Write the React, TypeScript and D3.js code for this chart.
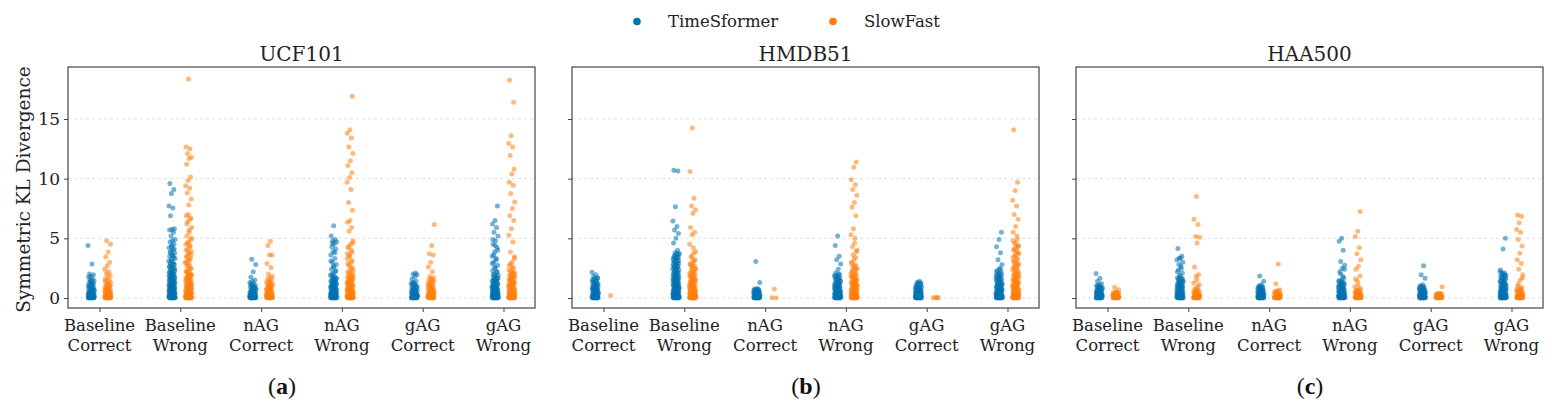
import React, { useEffect, useRef } from 'react';
import * as d3 from 'd3';

// categories and series
const categories = ['Baseline Correct', 'Baseline Wrong', 'nAG Correct', 'nAG Wrong', 'gAG Correct', 'gAG Wrong'];
const models = ['TimeSformer', 'SlowFast'];
const datasets = ['UCF101', 'HMDB51', 'HAA500'];
const panelLetters = ['a', 'b', 'c'];
const yTicks = [0, 5, 10, 15];

// values, one string per category (order as in categories)
// spread-out points
const ucfTimeSformer = [
  '4.4 2.85 2.0 1.95 1.85 1.75 1.6 1.55 1.45 1.35 1.3 1.2 1.1 1.05 0.98 0.9 0.85 0.8 0.74 0.7 0.65 0.6 0.55 0.52 0.48 0.45 0.42 0.38 0.35 0.32 0.29 0.26 0.23 0.2 0.18 0.16 0.14 0.12 0.1 0.08 0.07 0.05 0.04 0.03 0.02 0.01 0 0',
  '9.6 9.1 8.75 7.7 7.55 6.9 5.8 5.75 5.7 5.5 5.2 4.9 4.8 4.7 4.5 4.3 4.2 4.05 3.9 3.75 3.6 3.5 3.4 3.25 3.1 3.0 2.9 2.8 2.7 2.6 2.5 2.4 2.3 2.2 2.1 2.0 1.92 1.85 1.78 1.7 1.62 1.55 1.48 1.4 1.33 1.27 1.2 1.14 1.08 1.02 0.96 0.9 0.85 0.8 0.75 0.7 0.65 0.6 0.56 0.52 0.48 0.44 0.4 0.36 0.33 0.3 0.27 0.24 0.21 0.18 0.16 0.14 0.12 0.1 0.08 0.06 0.05 0.04 0.03 0.02 0.01 0 0',
  '3.25 2.8 2.2 1.75 1.5 1.4 1.3 1.2 1.12 1.05 0.98 0.9 0.84 0.78 0.72 0.66 0.6 0.55 0.5 0.46 0.42 0.38 0.34 0.3 0.27 0.24 0.21 0.18 0.16 0.14 0.12 0.1 0.08 0.06 0.05 0.04 0.03 0.02 0.01 0 0',
  '6.05 5.2 4.9 4.8 4.7 4.5 4.3 4.1 3.9 3.6 3.3 3.0 2.8 2.6 2.4 2.2 2.05 1.9 1.8 1.7 1.6 1.5 1.42 1.34 1.26 1.18 1.1 1.03 0.96 0.9 0.84 0.78 0.72 0.66 0.6 0.55 0.5 0.46 0.42 0.38 0.34 0.3 0.27 0.24 0.21 0.18 0.15 0.13 0.11 0.09 0.07 0.05 0.04 0.03 0.02 0.01 0 0',
  '2.1 2.0 1.95 1.8 1.6 1.4 1.3 1.2 1.12 1.05 0.98 0.9 0.84 0.78 0.72 0.66 0.6 0.55 0.5 0.46 0.42 0.38 0.34 0.3 0.27 0.24 0.21 0.18 0.16 0.14 0.12 0.1 0.08 0.06 0.05 0.04 0.03 0.02 0.01 0 0',
  '7.7 6.5 6.2 5.9 5.5 5.2 4.8 4.5 4.2 3.85 3.5 3.3 3.0 2.75 2.5 2.3 2.15 2.0 1.9 1.8 1.7 1.6 1.5 1.42 1.34 1.26 1.18 1.1 1.03 0.96 0.9 0.84 0.78 0.72 0.66 0.6 0.55 0.5 0.46 0.42 0.38 0.34 0.3 0.27 0.24 0.21 0.18 0.15 0.13 0.11 0.09 0.07 0.05 0.04 0.03 0.02 0.01 0 0',
];
const ucfSlowFast = [
  '4.8 4.5 3.85 3.45 3.0 2.7 2.4 2.2 2.05 1.9 1.75 1.6 1.5 1.4 1.3 1.2 1.1 1.02 0.95 0.88 0.8 0.74 0.68 0.62 0.57 0.52 0.47 0.42 0.38 0.34 0.3 0.27 0.24 0.21 0.18 0.15 0.13 0.11 0.09 0.07 0.05 0.04 0.03 0.02 0.01 0',
  '18.35 12.65 12.5 12.1 11.8 11.7 11.2 10.15 9.85 9.4 9.2 8.8 8.3 7.8 6.9 6.6 6.4 5.9 5.5 5.2 4.9 4.7 4.5 4.3 4.1 3.9 3.7 3.5 3.3 3.1 2.95 2.8 2.65 2.5 2.35 2.2 2.1 2.0 1.9 1.8 1.7 1.6 1.5 1.4 1.32 1.24 1.16 1.08 1.0 0.93 0.86 0.8 0.74 0.68 0.62 0.57 0.52 0.47 0.42 0.38 0.34 0.3 0.26 0.23 0.2 0.17 0.14 0.12 0.1 0.08 0.06 0.04 0.03 0.02 0.01 0 0',
  '4.75 4.4 3.6 3.6 2.9 2.55 2.0 1.8 1.7 1.6 1.5 1.4 1.3 1.2 1.1 1.02 0.95 0.88 0.8 0.74 0.68 0.62 0.56 0.5 0.45 0.4 0.36 0.32 0.28 0.25 0.22 0.19 0.16 0.14 0.12 0.1 0.08 0.06 0.04 0.03 0.02 0.01 0',
  '16.9 14.1 13.8 13.4 12.65 12.1 11.5 11.1 10.5 10.1 9.7 9.1 8.0 7.35 6.5 6.35 5.9 5.6 4.8 4.5 4.2 3.85 3.6 3.3 3.0 2.75 2.5 2.35 2.2 2.05 1.9 1.8 1.7 1.6 1.5 1.4 1.32 1.24 1.16 1.08 1.0 0.93 0.86 0.8 0.74 0.68 0.62 0.57 0.52 0.47 0.42 0.38 0.34 0.3 0.26 0.23 0.2 0.17 0.14 0.12 0.1 0.08 0.06 0.04 0.03 0.02 0.01 0 0',
  '6.15 4.4 3.7 3.6 3.0 2.6 2.2 1.8 1.7 1.6 1.5 1.4 1.3 1.2 1.1 1.02 0.95 0.88 0.8 0.74 0.68 0.62 0.56 0.5 0.45 0.4 0.36 0.32 0.28 0.25 0.22 0.19 0.16 0.14 0.12 0.1 0.08 0.06 0.04 0.03 0.02 0.01 0',
  '18.25 16.4 13.6 12.95 12.65 11.95 10.8 10.4 9.7 9.45 8.75 8.05 7.5 6.9 6.5 5.8 5.25 4.7 3.85 3.45 3.0 2.7 2.45 2.25 2.1 2.0 1.9 1.8 1.7 1.6 1.5 1.4 1.32 1.24 1.16 1.08 1.0 0.93 0.86 0.8 0.74 0.68 0.62 0.57 0.52 0.47 0.42 0.38 0.34 0.3 0.26 0.23 0.2 0.17 0.14 0.12 0.1 0.08 0.06 0.04 0.03 0.02 0.01 0 0',
];
const hmdbTimeSformer = [
  '2.15 1.95 1.8 1.7 1.6 1.5 1.4 1.3 1.2 1.12 1.05 0.98 0.9 0.84 0.78 0.72 0.66 0.6 0.55 0.5 0.46 0.42 0.38 0.34 0.3 0.27 0.24 0.21 0.18 0.16 0.14 0.12 0.1 0.08 0.06 0.05 0.04 0.03 0.02 0.01 0 0',
  '10.7 10.65 7.65 6.45 6.0 5.7 5.4 5.0 4.6 4.0 3.8 3.75 3.6 3.5 3.4 3.3 3.2 3.1 3.0 2.9 2.8 2.7 2.6 2.5 2.4 2.3 2.2 2.1 2.0 1.92 1.85 1.78 1.7 1.62 1.55 1.48 1.4 1.33 1.27 1.2 1.14 1.08 1.02 0.96 0.9 0.85 0.8 0.75 0.7 0.65 0.6 0.56 0.52 0.48 0.44 0.4 0.36 0.33 0.3 0.27 0.24 0.21 0.18 0.16 0.14 0.12 0.1 0.08 0.06 0.05 0.04 0.03 0.02 0.01 0 0',
  '3.05 1.3 0.8 0.75 0.7 0.65 0.6 0.55 0.5 0.46 0.42 0.38 0.34 0.3 0.27 0.24 0.21 0.18 0.16 0.14 0.12 0.1 0.08 0.06 0.05 0.04 0.03 0.02 0.01 0 0',
  '5.2 4.4 3.5 3.2 2.85 2.4 2.1 1.95 1.85 1.75 1.65 1.55 1.45 1.36 1.28 1.2 1.12 1.05 0.98 0.9 0.84 0.78 0.72 0.66 0.6 0.55 0.5 0.46 0.42 0.38 0.34 0.3 0.27 0.24 0.21 0.18 0.15 0.13 0.11 0.09 0.07 0.05 0.04 0.03 0.02 0.01 0 0',
  '1.4 1.3 1.25 1.15 1.05 0.98 0.9 0.84 0.78 0.72 0.66 0.6 0.55 0.5 0.46 0.42 0.38 0.34 0.3 0.27 0.24 0.21 0.18 0.16 0.14 0.12 0.1 0.08 0.06 0.05 0.04 0.03 0.02 0.01 0 0',
  '5.5 4.9 4.3 3.8 3.2 2.8 2.5 2.3 2.15 2.0 1.9 1.8 1.7 1.6 1.5 1.42 1.34 1.26 1.18 1.1 1.03 0.96 0.9 0.84 0.78 0.72 0.66 0.6 0.55 0.5 0.46 0.42 0.38 0.34 0.3 0.27 0.24 0.21 0.18 0.15 0.13 0.11 0.09 0.07 0.05 0.04 0.03 0.02 0.01 0 0',
];
const hmdbSlowFast = [
  '0.2',
  '14.25 10.6 8.35 7.7 7.4 7.1 5.9 5.5 5.3 4.5 3.75 3.5 3.2 3.0 2.85 2.7 2.55 2.4 2.25 2.1 2.0 1.9 1.8 1.7 1.6 1.5 1.4 1.32 1.24 1.16 1.08 1.0 0.93 0.86 0.8 0.74 0.68 0.62 0.57 0.52 0.47 0.42 0.38 0.34 0.3 0.26 0.23 0.2 0.17 0.14 0.12 0.1 0.08 0.06 0.04 0.03 0.02 0.01 0 0',
  '0.75 0.02 0',
  '11.4 10.95 9.9 9.5 9.1 8.6 8.0 7.6 6.9 5.8 5.3 5.0 4.3 3.9 3.2 2.9 2.75 2.6 2.45 2.3 2.15 2.0 1.9 1.8 1.7 1.6 1.5 1.4 1.32 1.24 1.16 1.08 1.0 0.93 0.86 0.8 0.74 0.68 0.62 0.57 0.52 0.47 0.42 0.38 0.34 0.3 0.26 0.23 0.2 0.17 0.14 0.12 0.1 0.08 0.06 0.04 0.03 0.02 0.01 0 0',
  '0.05 0.03 0.02 0',
  '14.1 9.7 9.0 8.2 7.7 7.0 6.6 6.0 5.5 4.9 4.6 4.4 4.2 4.0 3.8 3.6 3.4 3.2 3.0 2.85 2.7 2.55 2.4 2.25 2.1 2.0 1.9 1.8 1.7 1.6 1.5 1.4 1.32 1.24 1.16 1.08 1.0 0.93 0.86 0.8 0.74 0.68 0.62 0.57 0.52 0.47 0.42 0.38 0.34 0.3 0.26 0.23 0.2 0.17 0.14 0.12 0.1 0.08 0.06 0.04 0.03 0.02 0.01 0 0',
];
const haaTimeSformer = [
  '2.05 1.65 1.4 1.2 1.1 1.02 0.95 0.88 0.8 0.74 0.68 0.62 0.56 0.5 0.45 0.4 0.36 0.32 0.28 0.25 0.22 0.19 0.16 0.14 0.12 0.1 0.08 0.06 0.04 0.03 0.02 0.01 0 0',
  '4.15 3.5 3.35 3.2 2.65 2.35 2.1 1.8 1.7 1.6 1.5 1.42 1.34 1.26 1.18 1.1 1.03 0.96 0.9 0.84 0.78 0.72 0.66 0.6 0.55 0.5 0.46 0.42 0.38 0.34 0.3 0.27 0.24 0.21 0.18 0.15 0.13 0.11 0.09 0.07 0.05 0.04 0.03 0.02 0.01 0 0',
  '1.85 1.4 1.1 1.0 0.92 0.85 0.78 0.72 0.66 0.6 0.55 0.5 0.45 0.4 0.36 0.32 0.28 0.25 0.22 0.19 0.16 0.14 0.12 0.1 0.08 0.06 0.04 0.03 0.02 0.01 0 0',
  '5.0 4.75 4.0 3.05 2.75 2.5 2.2 1.65 1.5 1.4 1.3 1.2 1.12 1.05 0.98 0.9 0.84 0.78 0.72 0.66 0.6 0.55 0.5 0.46 0.42 0.38 0.34 0.3 0.27 0.24 0.21 0.18 0.16 0.14 0.12 0.1 0.08 0.06 0.05 0.04 0.03 0.02 0.01 0 0',
  '2.7 1.95 1.65 1.1 1.0 0.92 0.85 0.78 0.72 0.66 0.6 0.55 0.5 0.45 0.4 0.36 0.32 0.28 0.25 0.22 0.19 0.16 0.14 0.12 0.1 0.08 0.06 0.04 0.03 0.02 0.01 0 0',
  '5.0 4.1 2.35 2.1 2.0 1.9 1.8 1.7 1.6 1.5 1.4 1.3 1.2 1.12 1.05 0.98 0.9 0.84 0.78 0.72 0.66 0.6 0.55 0.5 0.46 0.42 0.38 0.34 0.3 0.27 0.24 0.21 0.18 0.16 0.14 0.12 0.1 0.08 0.06 0.05 0.04 0.03 0.02 0.01 0 0',
];
const haaSlowFast = [
  '0.9 0.7 0.5 0.45 0.4 0.35 0.3 0.26 0.22 0.19 0.16 0.13 0.1 0.08 0.06 0.04 0.03 0.02 0.01 0',
  '8.5 6.6 6.15 5.15 5.1 4.6 2.6 1.95 1.8 1.25 0.95 0.7 0.6 0.5 0.42 0.36 0.3 0.25 0.2 0.16 0.12 0.09 0.06 0.04 0.02 0.01 0',
  '2.85 1.2 0.7 0.6 0.52 0.45 0.38 0.32 0.27 0.22 0.18 0.14 0.11 0.08 0.06 0.04 0.02 0.01 0',
  '7.25 5.6 5.15 4.2 3.7 3.2 2.65 2.4 1.85 1.4 0.95 0.7 0.62 0.55 0.48 0.42 0.36 0.3 0.25 0.2 0.16 0.12 0.09 0.06 0.04 0.02 0.01 0',
  '0.95 0.4 0.35 0.3 0.26 0.22 0.18 0.15 0.12 0.09 0.07 0.05 0.03 0.02 0.01 0',
  '6.95 6.85 6.3 5.75 5.5 4.9 4.35 3.75 3.2 2.9 2.4 1.95 1.5 1.0 0.85 0.7 0.6 0.52 0.45 0.38 0.32 0.26 0.21 0.16 0.12 0.09 0.06 0.04 0.02 0.01 0',
];

// extra points in the solid-looking bottom part of each strip
const ucfTimeSformerDense = [
  '0.005 0.015 0.025 0.035 0.06 0.09 0.11 0.15 0.19 0.24 0.28 0.33 0.4 0.47 0.58 0.68 0.78 0.95 1.15 1.4',
  '0.005 0.015 0.025 0.035 0.045 0.07 0.09 0.11 0.13 0.15 0.19 0.23 0.26 0.29 0.34 0.38 0.42 0.46 0.5 0.58 0.63 0.68 0.73 0.78 0.83 0.88 0.94 1.0 1.05 1.11 1.17 1.24 1.3 1.37 1.45 1.52 1.6 1.66 1.74 1.82 1.88 1.96 2.05 2.15 2.25 2.35 2.45 2.55 2.65 2.85 3.05 3.3 3.55 3.8 4.1 4.4',
  '0.005 0.015 0.025 0.035 0.07 0.09 0.11 0.15 0.2 0.25 0.32 0.4 0.48 0.58 0.7 0.82 0.95 1.1',
  '0.005 0.015 0.025 0.035 0.06 0.08 0.1 0.12 0.14 0.17 0.2 0.23 0.26 0.29 0.32 0.36 0.4 0.44 0.48 0.53 0.58 0.63 0.69 0.75 0.81 0.87 0.93 1.0 1.07 1.15 1.22 1.3 1.38 1.46 1.55 1.65 1.75 1.95 2.3 2.7 3.1 3.8 4.6',
  '0.005 0.015 0.025 0.035 0.07 0.09 0.11 0.15 0.2 0.25 0.32 0.4 0.48 0.58 0.7 0.82 0.95 1.1 1.25',
  '0.005 0.015 0.025 0.035 0.06 0.08 0.1 0.12 0.14 0.17 0.2 0.23 0.26 0.29 0.32 0.36 0.4 0.44 0.48 0.53 0.58 0.63 0.69 0.75 0.81 0.87 0.93 1.0 1.07 1.15 1.22 1.3 1.38 1.46 1.55 1.65 1.75 1.95 2.2 2.6 2.9 3.2 3.6 4.0 4.4 4.9',
];
const ucfSlowFastDense = [
  '0.005 0.015 0.025 0.035 0.06 0.08 0.1 0.14 0.17 0.2 0.25 0.3 0.36 0.44 0.5 0.6 0.7 0.85 1.0 1.15 1.35',
  '0.005 0.015 0.025 0.035 0.05 0.07 0.09 0.11 0.13 0.16 0.19 0.22 0.25 0.28 0.32 0.36 0.4 0.45 0.5 0.55 0.6 0.65 0.71 0.77 0.83 0.9 0.97 1.04 1.12 1.2 1.28 1.36 1.45 1.55 1.65 1.75 1.85 1.95 2.05 2.25 2.45 2.7 3.0 3.2 3.4 3.6 3.8 4.0 4.4 4.6 5.0 5.7 6.2 6.7 7.0',
  '0.005 0.015 0.025 0.035 0.06 0.09 0.11 0.14 0.17 0.2 0.26 0.3 0.38 0.43 0.53 0.6 0.7 0.85 1.0 1.15 1.35',
  '0.005 0.015 0.025 0.035 0.05 0.07 0.09 0.11 0.13 0.16 0.19 0.22 0.25 0.28 0.32 0.36 0.4 0.45 0.5 0.55 0.6 0.65 0.71 0.77 0.83 0.9 0.97 1.04 1.12 1.2 1.28 1.36 1.45 1.55 1.65 1.75 1.85 2.0 2.25 2.6 2.9 3.15 3.45 3.7 4.0 4.3 4.6',
  '0.005 0.015 0.025 0.035 0.06 0.09 0.11 0.14 0.17 0.2 0.26 0.3 0.38 0.43 0.53 0.6 0.7 0.85 1.0 1.15 1.35 1.55',
  '0.005 0.015 0.025 0.035 0.05 0.07 0.09 0.11 0.13 0.16 0.19 0.22 0.25 0.28 0.32 0.36 0.4 0.45 0.5 0.55 0.6 0.65 0.71 0.77 0.83 0.9 0.97 1.04 1.12 1.2 1.28 1.36 1.45 1.55 1.65 1.75 1.85 1.95 2.05 2.2 2.35 2.6 2.85 3.3',
];
const hmdbTimeSformerDense = [
  '0.005 0.015 0.025 0.035 0.07 0.09 0.11 0.15 0.19 0.23 0.28 0.32 0.4 0.44 0.52 0.58 0.63 0.69 0.75 0.81 0.87 0.94 1.0 1.08 1.16 1.25 1.35 1.45 1.55 1.65',
  '0.005 0.015 0.025 0.035 0.045 0.07 0.09 0.11 0.13 0.15 0.19 0.23 0.26 0.29 0.34 0.38 0.42 0.46 0.5 0.58 0.63 0.68 0.73 0.78 0.83 0.88 0.94 1.0 1.05 1.11 1.17 1.24 1.3 1.37 1.45 1.52 1.6 1.66 1.74 1.82 1.88 1.96 2.05 2.15 2.25 2.35 2.45 2.55 2.65 2.75 2.85 2.95 3.05 3.15 3.25 3.35 3.45 3.55 3.65 3.7',
  '0.005 0.015 0.025 0.035 0.07 0.09 0.11 0.13 0.15 0.17 0.2 0.23 0.26 0.29 0.32 0.36 0.4 0.44 0.48 0.52 0.57 0.62 0.68 0.72',
  '0.005 0.015 0.025 0.035 0.06 0.08 0.1 0.12 0.14 0.17 0.2 0.23 0.26 0.29 0.32 0.36 0.4 0.44 0.48 0.53 0.58 0.63 0.69 0.75 0.81 0.87 0.93 1.0 1.07 1.15 1.22 1.3 1.38 1.46 1.55 1.65 1.75 1.9 2.0',
  '0.005 0.015 0.025 0.035 0.07 0.09 0.11 0.13 0.15 0.17 0.2 0.23 0.26 0.29 0.32 0.36 0.4 0.44 0.48 0.52 0.57 0.62 0.68 0.75 0.82 0.88 0.94 1.01 1.1 1.2 1.28',
  '0.005 0.015 0.025 0.035 0.06 0.08 0.1 0.12 0.14 0.17 0.2 0.23 0.26 0.29 0.32 0.36 0.4 0.44 0.48 0.53 0.58 0.63 0.69 0.75 0.81 0.87 0.93 1.0 1.07 1.15 1.22 1.3 1.38 1.46 1.55 1.65 1.75 1.85 1.95 2.05 2.2 2.4',
];
const hmdbSlowFastDense = [
  '',
  '0.005 0.015 0.025 0.035 0.05 0.07 0.09 0.11 0.13 0.16 0.19 0.22 0.25 0.28 0.32 0.36 0.4 0.45 0.5 0.55 0.6 0.65 0.71 0.77 0.83 0.9 0.97 1.04 1.12 1.2 1.28 1.36 1.45 1.55 1.65 1.75 1.85 1.95 2.05 2.2 2.35 2.5 2.65 2.8 3.1 3.4 3.9 4.2',
  '',
  '0.005 0.015 0.025 0.035 0.05 0.07 0.09 0.11 0.13 0.16 0.19 0.22 0.25 0.28 0.32 0.36 0.4 0.45 0.5 0.55 0.6 0.65 0.71 0.77 0.83 0.9 0.97 1.04 1.12 1.2 1.28 1.36 1.45 1.55 1.65 1.75 1.85 1.95 2.05 2.2 2.35 2.5 2.7 3.0 3.4 3.6 4.0 4.6',
  '',
  '0.005 0.015 0.025 0.035 0.05 0.07 0.09 0.11 0.13 0.16 0.19 0.22 0.25 0.28 0.32 0.36 0.4 0.45 0.5 0.55 0.6 0.65 0.71 0.77 0.83 0.9 0.97 1.04 1.12 1.2 1.28 1.36 1.45 1.55 1.65 1.75 1.85 1.95 2.05 2.2 2.35 2.5 2.65 2.8 2.95 3.1 3.3 3.5 3.7 3.9 4.1 4.3 4.5 4.8 5.2',
];
const haaTimeSformerDense = [
  '0.005 0.015 0.025 0.035 0.07 0.09 0.11 0.15 0.18 0.2 0.24 0.3 0.34 0.38 0.43 0.48 0.53 0.58 0.65 0.7 0.77 0.84 0.92 1.0',
  '0.005 0.015 0.025 0.035 0.06 0.08 0.1 0.12 0.14 0.17 0.2 0.23 0.26 0.29 0.32 0.36 0.4 0.44 0.48 0.53 0.58 0.63 0.69 0.75 0.81 0.87 0.93 1.0 1.07 1.15 1.22 1.3 1.38 1.46 1.55 1.65 1.9 2.2 2.5 2.8 3.0 3.3',
  '0.005 0.015 0.025 0.035 0.07 0.09 0.11 0.15 0.18 0.2 0.24 0.3 0.34 0.38 0.43 0.48 0.53 0.58 0.65 0.7 0.77 0.84 0.92 1.0',
  '0.005 0.015 0.025 0.035 0.06 0.08 0.1 0.12 0.14 0.17 0.2 0.23 0.26 0.29 0.32 0.36 0.4 0.44 0.48 0.53 0.58 0.63 0.69 0.75 0.81 0.87 0.93 1.0 1.07 1.15 1.25 1.35 1.45 1.8 2.0 2.4',
  '0.005 0.015 0.025 0.035 0.07 0.09 0.11 0.15 0.18 0.2 0.24 0.3 0.34 0.38 0.43 0.48 0.53 0.58 0.65 0.7 0.77 0.84 0.92 1.0',
  '0.005 0.015 0.025 0.035 0.06 0.08 0.1 0.12 0.14 0.17 0.2 0.23 0.26 0.29 0.32 0.36 0.4 0.44 0.48 0.53 0.58 0.63 0.69 0.75 0.81 0.87 0.93 1.0 1.07 1.15 1.22 1.3 1.38 1.46 1.55 1.65 1.75 1.85 1.95 2.1 2.2',
];
const haaSlowFastDense = [
  '0.005 0.015 0.025 0.035 0.05 0.07 0.09 0.11 0.14 0.17 0.2 0.24 0.28 0.32 0.38 0.42 0.48',
  '0.005 0.015 0.025 0.035 0.05 0.07 0.08 0.1 0.11 0.14 0.18 0.22 0.27 0.33 0.38 0.45 0.55 0.65 0.8 1.1 1.5',
  '0.005 0.015 0.025 0.035 0.05 0.07 0.09 0.1 0.13 0.16 0.2 0.25 0.3 0.35 0.42 0.5 0.55',
  '0.005 0.015 0.025 0.035 0.05 0.07 0.08 0.1 0.11 0.14 0.18 0.22 0.27 0.33 0.38 0.45 0.52 0.58 0.65 0.8 1.1 1.6',
  '0.005 0.015 0.025 0.035 0.04 0.06 0.08 0.1 0.11 0.13 0.14 0.16 0.2 0.24 0.28 0.33 0.38',
  '0.005 0.015 0.025 0.035 0.05 0.07 0.08 0.1 0.11 0.14 0.18 0.22 0.27 0.33 0.38 0.45 0.52 0.58 0.65 0.75 0.8 1.2 1.7',
];

const seriesByDataset = [
  [[ucfTimeSformer, ucfTimeSformerDense], [ucfSlowFast, ucfSlowFastDense]],
  [[hmdbTimeSformer, hmdbTimeSformerDense], [hmdbSlowFast, hmdbSlowFastDense]],
  [[haaTimeSformer, haaTimeSformerDense], [haaSlowFast, haaSlowFastDense]],
];

const colors = ['#0173b2', '#ff7f0e'];
const font = 'DejaVu Serif, serif';

const parse = (s: string) => s.trim() === '' ? [] : s.trim().split(/\s+/).map(Number);

export default function App() {
  const svgRef = useRef<SVGSVGElement>(null);

  useEffect(() => {
    if (!svgRef.current) return;
    const svg = d3.select(svgRef.current);
    svg.selectAll('*').remove();

    const top = 67, bottom = 308;
    const panelW = 467;
    const panelLefts = [68, 572, 1076];
    const labelX = [282, 806, 1310];

    const y = d3.scaleLinear().domain([-0.84, 19.36]).range([bottom, top]);
    const hue = d3.scaleOrdinal<string, number>().domain(models).range([-8.3, 8.3]);

    // legend
    const legendX = [637, 833];
    models.forEach((m, i) => {
      svg.append('circle').attr('cx', legendX[i]).attr('cy', 21.5).attr('r', 3.8).attr('fill', colors[i]);
      svg.append('text').attr('x', legendX[i] + 31).attr('y', 27)
        .attr('font-family', font).attr('font-size', 16.5).attr('fill', '#222').text(m);
    });

    // y label
    svg.append('text')
      .attr('transform', `translate(23,${(top + bottom) / 2 + 2}) rotate(-90)`)
      .attr('text-anchor', 'middle').attr('dominant-baseline', 'central')
      .attr('font-family', font).attr('font-size', 18.5).attr('fill', '#222')
      .text('Symmetric KL Divergence');

    datasets.forEach((name, p) => {
      const left = panelLefts[p];
      const x = d3.scalePoint<string>().domain(categories).range([left, left + panelW]).padding(0.39);
      const g = svg.append('g');

      // grid
      g.selectAll('line.grid').data(yTicks).enter().append('line')
        .attr('x1', left).attr('x2', left + panelW)
        .attr('y1', d => y(d)).attr('y2', d => y(d))
        .attr('stroke', '#d9d9d9').attr('stroke-width', 0.8).attr('stroke-dasharray', '3,3');

      // strips
      seriesByDataset[p].forEach(([spread, dense], s) => {
        categories.forEach((cat, c) => {
          const vals = parse(spread[c]).concat(parse(dense[c]));
          const cx = x(cat)! + hue(models[s]);
          g.append('g').selectAll('circle').data(vals).enter().append('circle')
            .attr('cx', (_, i) => cx + (((i * 0.618034 + 0.31 * s + 0.17 * c) % 1) - 0.5) * 6.4)
            .attr('cy', d => y(d))
            .attr('r', 2.5)
            .attr('fill', colors[s])
            .attr('fill-opacity', 0.55);
        });
      });

      // frame
      g.append('rect').attr('x', left).attr('y', top).attr('width', panelW).attr('height', bottom - top)
        .attr('fill', 'none').attr('stroke', '#444').attr('stroke-width', 1.2);

      // y axis
      const yAxis = g.append('g').attr('transform', `translate(${left},0)`)
        .call(d3.axisLeft(y).tickValues(yTicks).tickSize(4).tickPadding(4));
      yAxis.select('.domain').remove();
      yAxis.selectAll('line').attr('stroke', '#444');
      yAxis.selectAll('text').attr('font-family', font).attr('font-size', 17).attr('fill', '#222');
      if (p > 0) yAxis.selectAll('text').remove();

      // x axis
      const xAxis = g.append('g').attr('transform', `translate(0,${bottom})`)
        .call(d3.axisBottom(x).tickSize(4).tickFormat(() => ''));
      xAxis.select('.domain').remove();
      xAxis.selectAll('line').attr('stroke', '#444');
      categories.forEach(cat => {
        const [a, b] = cat.split(' ');
        const t = g.append('text').attr('x', x(cat)!).attr('y', 331)
          .attr('text-anchor', 'middle').attr('font-family', font).attr('font-size', 16.5).attr('fill', '#222');
        t.append('tspan').attr('x', x(cat)!).attr('dy', 0).text(a);
        t.append('tspan').attr('x', x(cat)!).attr('dy', 19.5).text(b);
      });

      // title
      g.append('text').attr('x', left + panelW / 2).attr('y', 61)
        .attr('text-anchor', 'middle').attr('font-family', font).attr('font-size', 20).attr('fill', '#222')
        .text(name);

      // panel letter
      const lt = g.append('text').attr('x', labelX[p]).attr('y', 394)
        .attr('text-anchor', 'middle').attr('font-family', 'Liberation Serif, serif').attr('font-size', 24).attr('fill', '#111');
      lt.append('tspan').text('(');
      lt.append('tspan').attr('font-weight', 'bold').text(panelLetters[p]);
      lt.append('tspan').text(')');
    });
  }, []);

  return <svg ref={svgRef} width={1557} height={409} style={{ position: 'absolute', left: 0, top: 0, background: '#fff' }} />;
}
